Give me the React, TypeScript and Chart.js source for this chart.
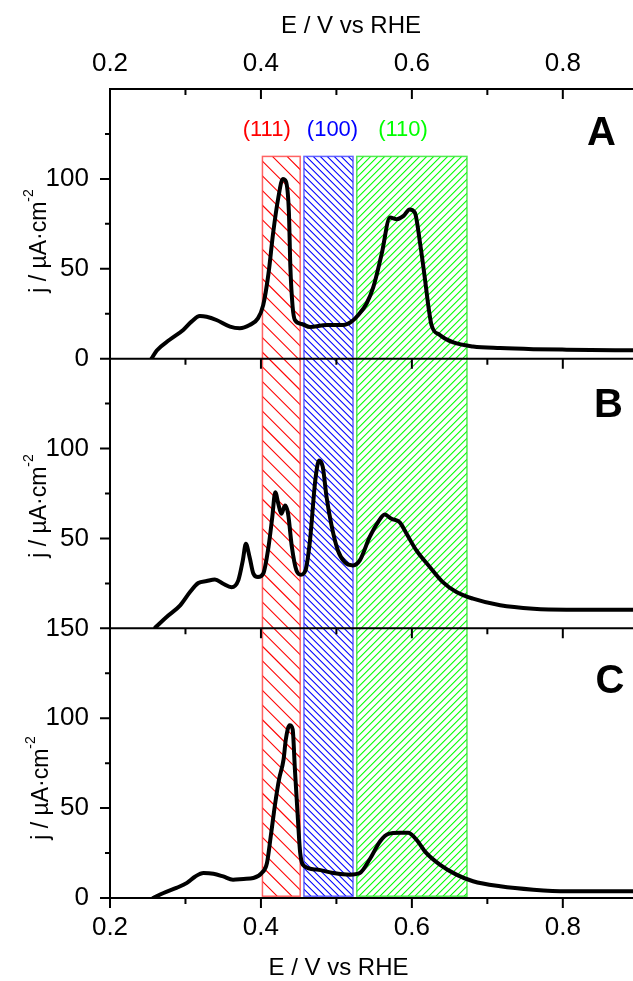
import { useEffect, useRef } from 'react';
import { Chart, registerables } from 'chart.js';

Chart.register(...registerables);

// ---------- data ----------
const xMin = 0.2;
const xMax = 0.893;
const xMajorTicks = [0.2, 0.4, 0.6, 0.8];
const xMinorTicks = [0.3, 0.5, 0.7];
const yTickValues = [0, 25, 50, 75, 100, 125, 150];
const yLabelsA = [0, 50, 100];
const yLabelsB = [50, 100];
const yLabelsC = [0, 50, 100, 150];

const eA = [0.255, 0.262, 0.279, 0.297, 0.308, 0.319, 0.328, 0.341, 0.359, 0.372, 0.385, 0.396, 0.403, 0.41, 0.416, 0.423, 0.429, 0.433, 0.437, 0.439, 0.442, 0.445, 0.454, 0.465, 0.487, 0.509, 0.52, 0.529, 0.54, 0.549, 0.56, 0.571, 0.58, 0.589, 0.597, 0.604, 0.611, 0.617, 0.622, 0.626, 0.637, 0.655, 0.681, 0.717, 0.761, 0.805, 0.9];
const jA = [0, 4.5, 10.5, 16, 20.6, 23.7, 23.3, 21.5, 17.8, 16.9, 18.7, 22.4, 29.8, 47.3, 69.3, 89.5, 100, 98.7, 82, 51, 28.8, 21.5, 19.3, 17.6, 18.7, 18.7, 20.6, 24.3, 30.7, 39.9, 58.3, 78.5, 77.6, 79.4, 83, 81.2, 63.8, 45.4, 28.8, 18.7, 13.2, 9, 6.8, 5.9, 5.3, 5, 4.6];

const eB = [0.26, 0.275, 0.293, 0.306, 0.317, 0.328, 0.339, 0.35, 0.361, 0.37, 0.376, 0.38, 0.385, 0.39, 0.396, 0.403, 0.41, 0.415, 0.419, 0.423, 0.427, 0.432, 0.436, 0.441, 0.447, 0.453, 0.459, 0.465, 0.472, 0.477, 0.482, 0.487, 0.494, 0.502, 0.511, 0.522, 0.531, 0.544, 0.555, 0.564, 0.573, 0.584, 0.593, 0.606, 0.624, 0.641, 0.659, 0.681, 0.717, 0.761, 0.805, 0.9];
const jB = [0.5, 6.3, 12.8, 20.2, 25.2, 26.3, 27.2, 24.8, 22.9, 26.7, 37.8, 47, 39.6, 30.4, 28.5, 30.4, 45.2, 61.8, 75.7, 69.3, 63.7, 68.3, 63.7, 45.2, 32.2, 29.8, 32.2, 48.9, 82.2, 93.3, 89.6, 72.9, 56.3, 43.3, 36.8, 35, 37.8, 50.7, 59, 63.3, 60.9, 59, 52.6, 43.3, 34, 25.7, 20.2, 16.5, 12.8, 10.9, 10.4, 10.4];

const eC = [0.257, 0.271, 0.288, 0.302, 0.313, 0.324, 0.337, 0.35, 0.363, 0.377, 0.39, 0.401, 0.408, 0.413, 0.419, 0.424, 0.43, 0.433, 0.438, 0.442, 0.445, 0.449, 0.452, 0.458, 0.474, 0.496, 0.518, 0.531, 0.544, 0.558, 0.569, 0.584, 0.595, 0.606, 0.619, 0.637, 0.659, 0.681, 0.717, 0.761, 0.805, 0.9];
const jC = [0, 2.8, 5.6, 8.4, 12, 13.9, 13.5, 12, 10.2, 10.6, 11.1, 13.9, 19.5, 34.3, 53, 66, 77.1, 88.3, 96.1, 93.9, 71.6, 43.7, 25.1, 17.6, 15.8, 13.9, 13, 13.9, 21.4, 31.6, 35.7, 36.3, 36.3, 32.5, 25.1, 18.6, 13, 9.3, 6.5, 4.6, 3.7, 3.7];

const panelLetters = ['A', 'B', 'C'];
const facetNames = ['(111)', '(100)', '(110)'];
const facetLo = [0.402, 0.457, 0.527];
const facetHi = [0.452, 0.522, 0.673];
const hatchTopA = 112.5; // in panel A units
const hatchBottomC = 1; // in panel C units

const xTitle = 'E / V vs RHE';
const yTitleMain = 'j / \u00b5A\u00b7cm';
const yTitleSup = '-2';

// ---------- styles ----------
const FONT = 'Arial, "Liberation Sans", Helvetica, sans-serif';
const facetColors = ['#ff0000', '#0000ff', '#00ff00'];
const facetBorders = ['rgba(255,60,60,0.8)', 'rgba(60,60,255,0.8)', 'rgba(40,230,40,0.8)'];
const hatchSpacing = [14.7, 7, 7];
const hatchDir = [1, 1, -1];

const panelIds = ['yA', 'yB', 'yC'];

function labelCb(shown: number[]) {
  return (v: any) => (shown.includes(Number(v)) ? String(v) : '');
}

function yScale(weight: number, shown: number[]) {
  return {
    type: 'linear',
    position: 'left',
    stack: 'j',
    stackWeight: 1,
    weight,
    min: 0,
    max: 150,
    afterBuildTicks: (s: any) => {
      s.ticks = yTickValues.map((v) => ({ value: v }));
    },
    afterFit: (s: any) => {
      s.width = 110;
    },
    grid: { display: false, drawTicks: false },
    border: { display: false },
    ticks: {
      autoSkip: false,
      padding: 21,
      color: '#000',
      font: { family: FONT, size: 26 },
      callback: labelCb(shown),
    },
  };
}

function xScale(position: string, height: number, padding: number) {
  return {
    type: 'linear',
    position,
    min: xMin,
    max: xMax,
    afterBuildTicks: (s: any) => {
      s.ticks = xMajorTicks.map((v) => ({ value: v }));
    },
    afterFit: (s: any) => {
      s.height = height;
    },
    grid: { display: false, drawTicks: false },
    border: { display: false },
    ticks: {
      autoSkip: false,
      maxRotation: 0,
      padding,
      color: '#000',
      font: { family: FONT, size: 26 },
      callback: (v: any) => Number(v).toFixed(1),
    },
  };
}

const framePlugin = {
  id: 'frame',
  beforeDatasetsDraw(chart: any) {
    const { ctx } = chart;
    const x = chart.scales.x;
    const top = chart.scales.yA.getPixelForValue(hatchTopA);
    const bottom = chart.scales.yC.getPixelForValue(hatchBottomC);
    const h = bottom - top;
    facetLo.forEach((lo, i) => {
      const l = x.getPixelForValue(lo);
      const r = x.getPixelForValue(facetHi[i]);
      ctx.save();
      ctx.beginPath();
      ctx.rect(l, top, r - l, h);
      ctx.clip();
      ctx.strokeStyle = facetColors[i];
      ctx.lineWidth = 1.1;
      ctx.beginPath();
      const sp = hatchSpacing[i];
      for (let k = -h; k < r - l + sp; k += sp) {
        if (hatchDir[i] > 0) {
          ctx.moveTo(l + k, top);
          ctx.lineTo(l + k + h, bottom);
        } else {
          ctx.moveTo(l + k, bottom);
          ctx.lineTo(l + k + h, top);
        }
      }
      ctx.stroke();
      ctx.restore();
      ctx.save();
      ctx.strokeStyle = facetBorders[i];
      ctx.lineWidth = 1.5;
      ctx.strokeRect(l, top, r - l, h);
      ctx.restore();
    });
  },
  afterDraw(chart: any) {
    const { ctx, chartArea: ca } = chart;
    const x = chart.scales.x;
    const ys = panelIds.map((id) => chart.scales[id]);
    ctx.save();
    ctx.strokeStyle = '#000';
    ctx.lineWidth = 2;
    ctx.beginPath();
    ctx.moveTo(ca.left, ca.top - 1);
    ctx.lineTo(ca.left, ca.bottom + 1);
    ys.forEach((s: any) => {
      const yt = s.getPixelForValue(150);
      ctx.moveTo(ca.left, yt);
      ctx.lineTo(ca.right, yt);
    });
    ctx.moveTo(ca.left, ca.bottom);
    ctx.lineTo(ca.right, ca.bottom);
    ys.forEach((s: any, pi: number) => {
      yTickValues.forEach((v) => {
        if (pi === 0 && v === 150) return;
        const py = s.getPixelForValue(v);
        const len = v % 50 === 0 ? 10 : 5;
        ctx.moveTo(ca.left - len, py);
        ctx.lineTo(ca.left, py);
      });
    });
    const xt = [...xMajorTicks.map((v) => [v, 10]), ...xMinorTicks.map((v) => [v, 6])];
    const rows = [...ys.map((s: any) => s.getPixelForValue(150)), ca.bottom];
    rows.forEach((yy: number) => {
      xt.forEach(([v, len]) => {
        const px = x.getPixelForValue(v);
        ctx.moveTo(px, yy);
        ctx.lineTo(px, yy + len);
      });
    });
    ctx.stroke();

    // axis titles (top & bottom)
    ctx.fillStyle = '#000';
    ctx.textBaseline = 'alphabetic';
    ctx.textAlign = 'center';
    ctx.font = `24px ${FONT}`;
    ctx.fillText(xTitle, 351, 33);
    ctx.fillText(xTitle, 338.5, 975);

    // y titles
    const yTitleCenters = [241, 506, 788];
    const yTitleBase = [46, 46, 48];
    ys.forEach((s: any, i: number) => {
      ctx.save();
      ctx.translate(yTitleBase[i], yTitleCenters[i]);
      ctx.rotate(-Math.PI / 2);
      ctx.textAlign = 'left';
      ctx.font = `23px ${FONT}`;
      const wm = ctx.measureText(yTitleMain).width;
      ctx.font = `14px ${FONT}`;
      const ws = ctx.measureText(yTitleSup).width;
      const start = -(wm + ws) / 2;
      ctx.font = `23px ${FONT}`;
      ctx.fillText(yTitleMain, start, 0);
      ctx.font = `14px ${FONT}`;
      ctx.fillText(yTitleSup, start + wm, -13);
      ctx.restore();
    });

    // facet labels
    ctx.font = `22px ${FONT}`;
    ctx.textAlign = 'center';
    const facetLabelX = [266.7, 332.5, 403];
    facetNames.forEach((n, i) => {
      ctx.fillStyle = facetColors[i];
      ctx.fillText(n, facetLabelX[i], 136);
    });

    // panel letters
    ctx.fillStyle = '#000';
    ctx.font = `bold 40px ${FONT}`;
    const letterX = [601.5, 608.5, 610];
    const letterY = [145, 417, 693];
    panelLetters.forEach((L, i) => ctx.fillText(L, letterX[i], letterY[i]));
    ctx.restore();
  },
};

export default function App() {
  const ref = useRef<HTMLCanvasElement | null>(null);
  useEffect(() => {
    if (!ref.current) return;
    const series = [
      { e: eA, j: jA },
      { e: eB, j: jB },
      { e: eC, j: jC },
    ];
    const chart = new Chart(ref.current, {
      type: 'line',
      data: {
        datasets: series.map((s, i) => ({
          data: s.e.map((e, k) => ({ x: e, y: s.j[k] })),
          xAxisID: 'x',
          yAxisID: panelIds[i],
          borderColor: '#000',
          borderWidth: 4,
          pointRadius: 0,
          fill: false,
          cubicInterpolationMode: 'monotone',
          borderJoinStyle: 'round',
          borderCapStyle: 'round',
        })),
      },
      options: {
        animation: false,
        responsive: false,
        events: [],
        layout: { padding: 0 },
        plugins: {
          legend: { display: false },
          tooltip: { enabled: false },
          title: { display: false },
        },
        scales: {
          x: xScale('bottom', 83, 14),
          x2: xScale('top', 89, 10),
          yA: yScale(3, yLabelsA),
          yB: yScale(2, yLabelsB),
          yC: yScale(1, yLabelsC),
        } as any,
      },
      plugins: [framePlugin],
    } as any);
    return () => chart.destroy();
  }, []);
  return (
    <canvas
      ref={ref}
      width={633}
      height={981}
      style={{ position: 'absolute', left: 0, top: 0, width: 633, height: 981 }}
    />
  );
}
